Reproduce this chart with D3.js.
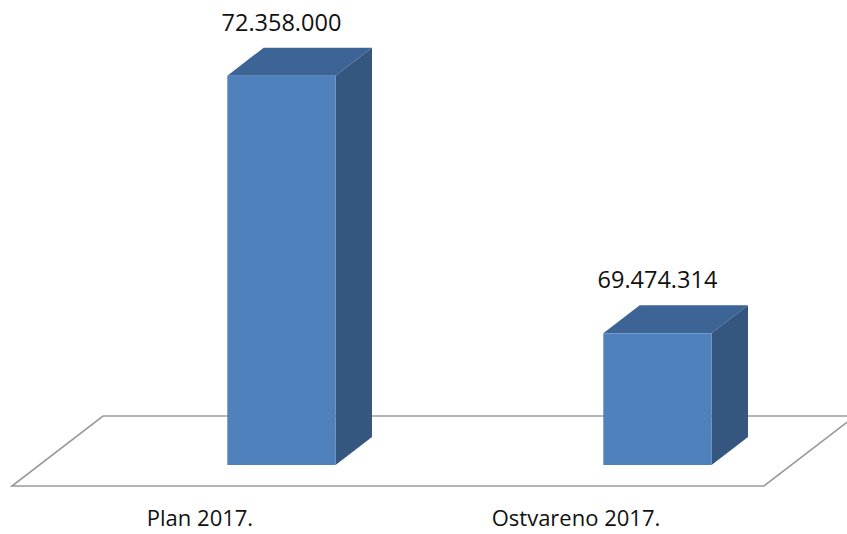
<!DOCTYPE html>
<html>
<head>
<meta charset="utf-8">
<script src="https://cdn.jsdelivr.net/npm/d3@7"></script>
<style>
  html, body { margin: 0; padding: 0; background: #fff; }
  svg { display: block; }
</style>
</head>
<body>
<svg id="chart" width="847" height="534"></svg>
<script>
// Data
const categories = ["Plan 2017.", "Ostvareno 2017."];
const values = [72358000, 69474314];
const valueLabels = ["72.358.000", "69.474.314"];
const valueDomain = [68000000, 72500000];

// Layout / projection settings
const W = 847, H = 534;
const floorFront = { x0: 12, x1: 764, y: 486 };
const floorDepth = { dx: 91, dy: -70 };      // full depth of the floor
const barDepthStart = 0.3, barDepthEnd = 0.7; // bars occupy the middle of the floor depth
const barOffset = 0.5, barWidthFrac = 0.288;

const colors = {
  front: "#4F81BD",
  side: "#34567F",
  top: "#3C6494",
  floor: "#9A9A9A"
};

const svg = d3.select("#chart");

const x = d3.scaleBand().domain(categories).range([floorFront.x0, floorFront.x1]);
const bw = x.bandwidth();

const d0 = { dx: floorDepth.dx * barDepthStart, dy: floorDepth.dy * barDepthStart };
const dd = { dx: floorDepth.dx * (barDepthEnd - barDepthStart), dy: floorDepth.dy * (barDepthEnd - barDepthStart) };

const y = d3.scaleLinear().domain(valueDomain).range([floorFront.y + d0.dy, 63]);

// Floor
const floorPts = [
  [floorFront.x0, floorFront.y],
  [floorFront.x1, floorFront.y],
  [floorFront.x1 + floorDepth.dx, floorFront.y + floorDepth.dy],
  [floorFront.x0 + floorDepth.dx, floorFront.y + floorDepth.dy]
];
svg.append("polygon")
  .attr("points", floorPts.map(p => p.join(",")).join(" "))
  .attr("fill", "#fff")
  .attr("stroke", colors.floor)
  .attr("stroke-width", 1.6)
  .attr("stroke-linejoin", "miter");

// Bars
const bars = categories.map((c, i) => {
  const left = x(c) + bw * barOffset + d0.dx;
  const width = bw * barWidthFrac;
  return { c, v: values[i], label: valueLabels[i], left, right: left + width,
           top: y(values[i]), bottom: y(valueDomain[0]) };
});

const g = svg.append("g").selectAll("g").data(bars).join("g");

// side face
g.append("polygon")
  .attr("fill", colors.side)
  .attr("points", d => [
    [d.right, d.top], [d.right + dd.dx, d.top + dd.dy],
    [d.right + dd.dx, d.bottom + dd.dy], [d.right, d.bottom]
  ].map(p => p.join(",")).join(" "));

// top face
g.append("polygon")
  .attr("fill", colors.top)
  .attr("points", d => [
    [d.left, d.top], [d.left + dd.dx, d.top + dd.dy],
    [d.right + dd.dx, d.top + dd.dy], [d.right, d.top]
  ].map(p => p.join(",")).join(" "));

// front face
g.append("rect")
  .attr("fill", colors.front)
  .attr("x", d => d.left)
  .attr("y", d => d.top)
  .attr("width", d => d.right - d.left)
  .attr("height", d => d.bottom - d.top);

// value labels
g.append("text")
  .attr("x", d => (d.left + d.right) / 2)
  .attr("y", d => d.top - 45)
  .attr("text-anchor", "middle")
  .attr("font-family", "'Open Sans', sans-serif")
  .attr("font-size", 23.5)
  .attr("fill", "#111")
  .text(d => d.label);

// category labels
svg.append("g").selectAll("text").data(categories).join("text")
  .attr("x", d => x(d) + bw / 2)
  .attr("y", 526)
  .attr("text-anchor", "middle")
  .attr("font-family", "'Open Sans', sans-serif")
  .attr("font-size", 22)
  .attr("fill", "#111")
  .text(d => d);
</script>
</body>
</html>
